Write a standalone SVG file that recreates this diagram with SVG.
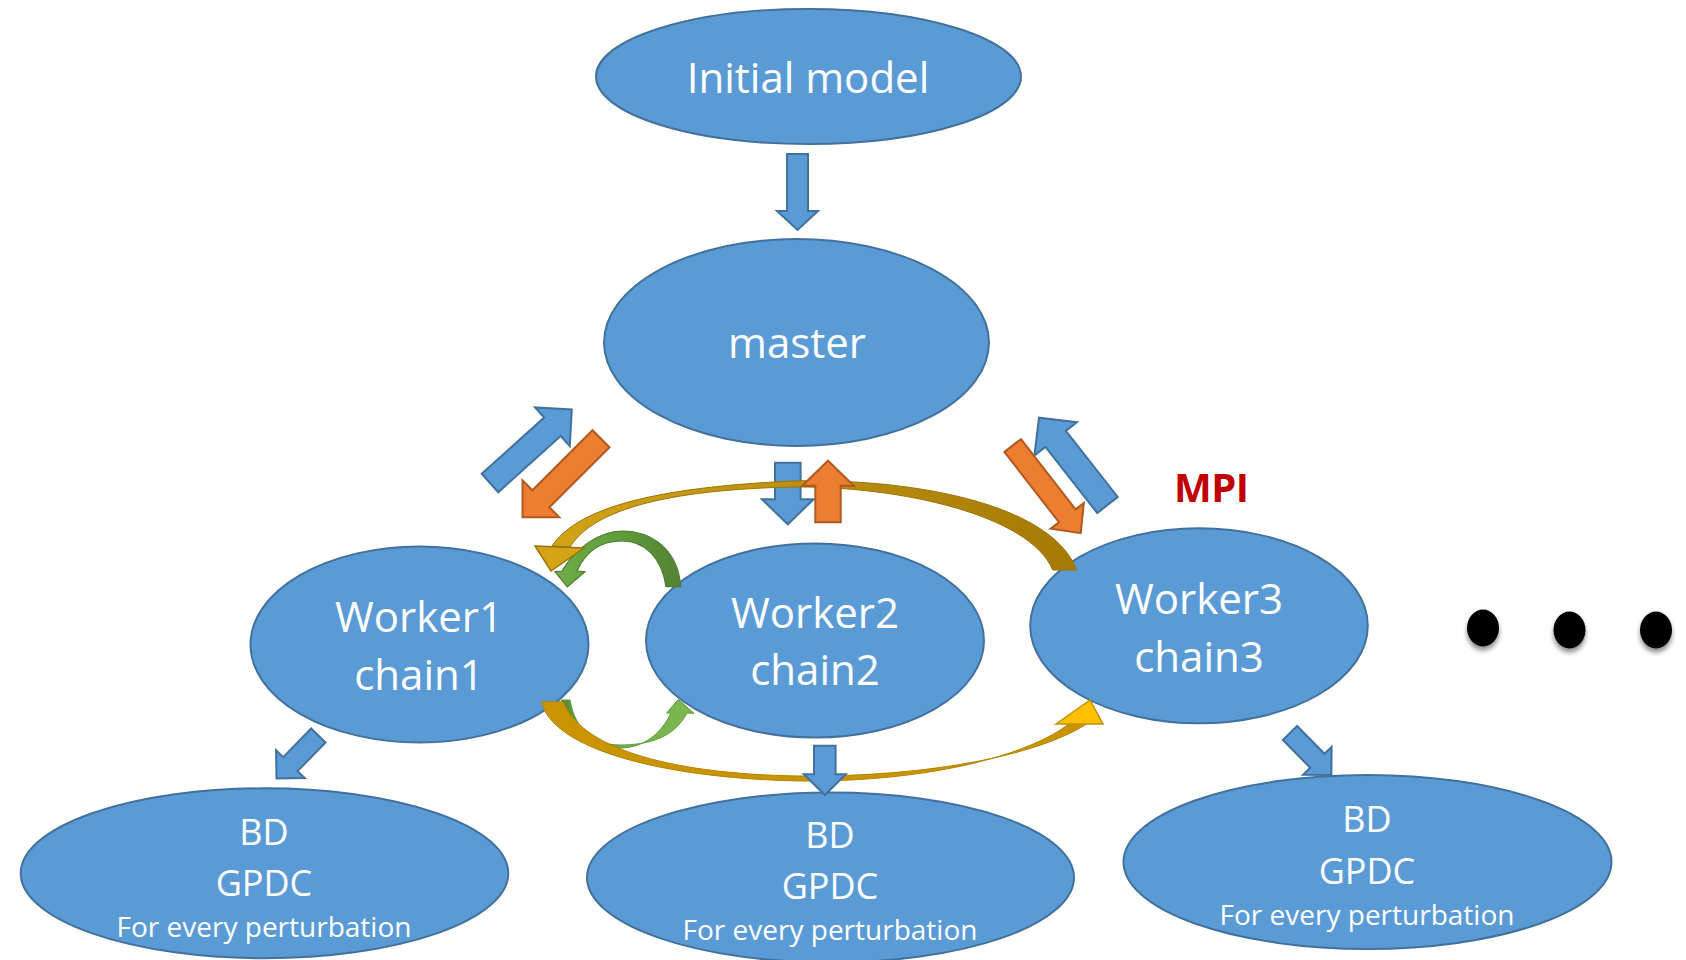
<svg xmlns="http://www.w3.org/2000/svg" width="1686" height="960" viewBox="0 0 1686 960">
<defs>
<style>
.node{fill:#5B9BD5;stroke:#41719C;stroke-width:2}
.lbl{font-family:"Open Sans","Liberation Sans",sans-serif;fill:#FFFFFF;text-anchor:middle}
.big{font-size:42px}
.mid{font-size:36px}
.small{font-size:28px}
.ba{fill:#5B9BD5;stroke:#41719C;stroke-width:2;stroke-linejoin:miter}
.oa{fill:#ED7D31;stroke:#AE5A21;stroke-width:2;stroke-linejoin:miter}
</style>
<linearGradient id="gUp" x1="0" y1="0" x2="1" y2="0">
<stop offset="0" stop-color="#D2A318"/>
<stop offset="1" stop-color="#A47A04"/>
</linearGradient>
<linearGradient id="grUp" x1="0" y1="0" x2="1" y2="0">
<stop offset="0" stop-color="#70AD47"/>
<stop offset="0.55" stop-color="#5E9A3A"/>
<stop offset="1" stop-color="#548235"/>
</linearGradient>
<linearGradient id="grLo" x1="0" y1="0" x2="1" y2="0">
<stop offset="0" stop-color="#548235"/>
<stop offset="0.15" stop-color="#70AD47"/>
<stop offset="1" stop-color="#7DB851"/>
</linearGradient>
<filter id="sh" x="-50%" y="-50%" width="200%" height="200%">
<feDropShadow dx="0" dy="4" stdDeviation="2.5" flood-color="#000" flood-opacity="0.45"/>
</filter>
</defs>
<rect width="1686" height="960" fill="#FFFFFF"/>

<g id="node-initial">
<ellipse class="node" cx="808.5" cy="76.5" rx="212.5" ry="67.5"/>
<text class="lbl big" x="808" y="93">Initial model</text>
</g>
<g id="node-master">
<ellipse class="node" cx="796.5" cy="342.5" rx="192.5" ry="103.5"/>
<text class="lbl big" x="797" y="358">master</text>
</g>
<g id="node-worker1">
<ellipse class="node" cx="419.5" cy="644.5" rx="169" ry="98"/>
<text class="lbl big" x="419" y="631.7">Worker1</text>
<text class="lbl big" x="419" y="690">chain1</text>
</g>
<g id="node-worker2">
<ellipse class="node" cx="815" cy="640.5" rx="169" ry="97"/>
<text class="lbl big" x="815" y="628.3">Worker2</text>
<text class="lbl big" x="815" y="685">chain2</text>
</g>
<g id="node-worker3">
<ellipse class="node" cx="1199" cy="625.8" rx="168.8" ry="97.5"/>
<text class="lbl big" x="1199" y="614">Worker3</text>
<text class="lbl big" x="1199" y="671.7">chain3</text>
</g>
<g id="node-bd1">
<ellipse class="node" cx="264.5" cy="873.3" rx="243.8" ry="85"/>
<text class="lbl mid" x="264" y="845">BD</text>
<text class="lbl mid" x="264" y="896">GPDC</text>
<text class="lbl small" x="264" y="936.7">For every perturbation</text>
</g>
<g id="node-bd2">
<ellipse class="node" cx="830.5" cy="877.5" rx="243.5" ry="85"/>
<text class="lbl mid" x="830" y="848">BD</text>
<text class="lbl mid" x="830" y="899">GPDC</text>
<text class="lbl small" x="830" y="940">For every perturbation</text>
</g>
<g id="node-bd3">
<ellipse class="node" cx="1367.5" cy="862" rx="244" ry="87"/>
<text class="lbl mid" x="1367" y="832">BD</text>
<text class="lbl mid" x="1367" y="884">GPDC</text>
<text class="lbl small" x="1367" y="925">For every perturbation</text>
</g>
<g id="label-mpi">
<text x="1174" y="502" font-family="'Open Sans','Liberation Sans',sans-serif" font-weight="700" font-size="40" fill="#C00000" letter-spacing="-0.5">MPI</text>
</g>
<g id="dots" filter="url(#sh)">
<ellipse cx="1483" cy="628" rx="16" ry="18.5" fill="#000"/>
<ellipse cx="1569.5" cy="630" rx="16" ry="18.5" fill="#000"/>
<ellipse cx="1656" cy="630" rx="16" ry="18.5" fill="#000"/>
</g>

<g id="connectors">
<!-- Initial -> master -->
<polygon class="ba" transform="translate(797.5,154) rotate(90)" points="0,-10.5 57,-10.5 57,-20.5 76,0 57,20.5 57,10.5 0,10.5"/>
<!-- worker1 -> master (blue) -->
<polygon class="ba" transform="translate(490,483) rotate(-42)" points="0,-12.4 84,-12.4 84,-26 110,0 84,26 84,12.4 0,12.4"/>
<!-- master -> worker1 (orange) -->
<polygon class="oa" transform="translate(601,438.7) rotate(135)" points="0,-12 85,-12 85,-26 111,0 85,26 85,12 0,12"/>
<!-- center blue down -->
<polygon class="ba" transform="translate(787.8,462.7) rotate(90)" points="0,-12.8 36.6,-12.8 36.6,-25.8 61.6,0 36.6,25.8 36.6,12.8 0,12.8"/>
<!-- green curved arrow worker2 -> worker1 (top) -->
<path d="M680.7,586.7 C678,548 650,531 622,531 C600,531 575,548 562,571 L555,571.7 L567.3,587 L585,571.7 L577,571 C585,553 600,541 622,541 C645,541 662,558 666,586.7 Z" fill="url(#grUp)" stroke="#4E7A30" stroke-width="1.2"/>
<!-- green curved arrow worker1 -> worker2 (bottom) -->
<path d="M561.7,700 C565,735 590,748 620,748 C645,748 662,732 671,713 L666.7,713 L678.3,699.3 L694,713.3 L687,713 C674,738 648,745 620,745 C595,745 575,730 570,700 Z" fill="url(#grLo)" stroke="#5E9A3A" stroke-width="1"/>
<!-- gold upper arc worker3 -> worker1 -->
<path d="M552,546 C575,512 640,488 793,481 C900,478 1050,500 1076.7,570 L1052.7,570 C1030,515 900,486 793,487 C650,490 590,515 570,547 Z" fill="url(#gUp)" stroke="#9A7406" stroke-width="1"/>
<polygon points="535,546 584,548 551,571" fill="#D4A316" stroke="#9A7406" stroke-width="1.5"/>
<!-- gold lower arc worker1 -> worker3 -->
<path d="M541.7,701.7 C550,745 650,778 800,781 C930,782 1030,755 1070,723 L1088,723 C1045,752 940,777 800,776 C660,774 580,745 563.3,701.7 Z" fill="#C99400" stroke="#B08300" stroke-width="1"/>
<polygon points="1056,724 1090,700 1103,724" fill="#FFC000" stroke="#BF9000" stroke-width="1.5"/>
<!-- center orange up -->
<polygon class="oa" transform="translate(828,522.3) rotate(-90)" points="0,-12.7 36.6,-12.7 36.6,-25.8 61.6,0 36.6,25.8 36.6,12.7 0,12.7"/>
<!-- worker3 -> master (blue) -->
<polygon class="ba" transform="translate(1107.5,505) rotate(-128.1)" points="0,-13 84,-13 84,-27 111,0 84,27 84,13 0,13"/>
<!-- master -> worker3 (orange) -->
<polygon class="oa" transform="translate(1012.7,445.5) rotate(52.2)" points="0,-10.5 89,-10.5 89,-21 111,0 89,21 89,10.5 0,10.5"/>
<!-- worker1 -> BD1 -->
<polygon class="ba" transform="translate(318.3,735.5) rotate(134.2)" points="0,-10 40,-10 40,-20 60,0 40,20 40,10 0,10"/>
<!-- worker2 -> BD2 -->
<polygon class="ba" transform="translate(824.8,745.7) rotate(90)" points="0,-10.8 28.6,-10.8 28.6,-21 49.3,0 28.6,21 28.6,10.8 0,10.8"/>
<!-- worker3 -> BD3 -->
<polygon class="ba" transform="translate(1290,733) rotate(45.5)" points="0,-10 39,-10 39,-20 59,0 39,20 39,10 0,10"/>
</g>
</svg>
